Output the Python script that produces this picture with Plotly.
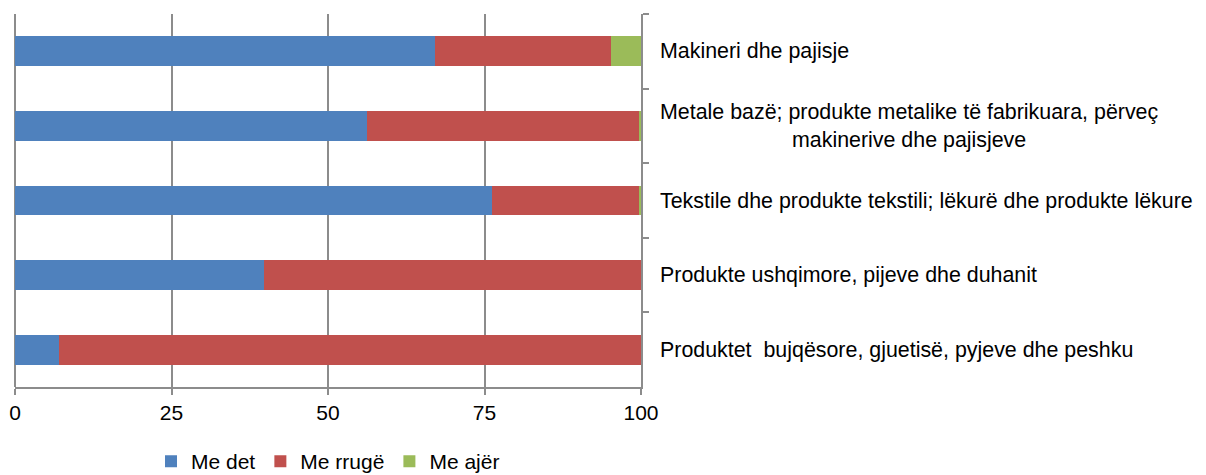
import plotly.graph_objects as go

categories = [
    "Makineri dhe pajisje",
    "Metale bazë; produkte metalike të fabrikuara, përveç<br>makinerive dhe pajisjeve",
    "Tekstile dhe produkte tekstili; lëkurë dhe produkte lëkure",
    "Produkte ushqimore, pijeve dhe duhanit",
    "Produktet  bujqësore, gjuetisë, pyjeve dhe peshku",
]
cat_ids = ["c1", "c2", "c3", "c4", "c5"]
me_det = [67.1, 56.3, 76.2, 39.7, 7.1]
me_rruge = [28.1, 43.3, 23.6, 60.3, 92.9]
me_ajer = [4.8, 0.4, 0.2, 0.0, 0.0]
series_names = ["Me det", "Me rrugë", "Me ajër"]
colors = ["#4F81BD", "#C0504D", "#9BBB59"]
x_ticks = [0, 25, 50, 75, 100]

FONT = "Liberation Sans, Arial, sans-serif"
GRAY = "#8C8C8C"

fig = go.Figure()
for name, vals, col in zip(series_names, [me_det, me_rruge, me_ajer], colors):
    fig.add_trace(go.Bar(
        y=cat_ids, x=vals, name=name, orientation="h",
        marker=dict(color=col, line=dict(width=0)),
    ))

for cid, label in zip(cat_ids, categories):
    fig.add_annotation(
        x=1, xref="paper", y=cid, yref="y", text=label,
        xanchor="left", yanchor="middle", xshift=17, align="center",
        showarrow=False, font=dict(family=FONT, size=21.4, color="#000000"),
    )

fig.update_layout(
    width=1206, height=475,
    margin=dict(l=15, r=565, t=14, b=88, autoexpand=False),
    barmode="stack", bargap=0.6,
    plot_bgcolor="white", paper_bgcolor="white",
    font=dict(family=FONT, size=21, color="#000000"),
    showlegend=True,
    legend=dict(
        orientation="h", x=0.5, xanchor="center", y=-0.2, yanchor="middle",
        font=dict(family=FONT, size=21), itemwidth=30,
        traceorder="normal",
    ),
)
fig.update_xaxes(
    range=[0, 100], tickvals=x_ticks, ticktext=[str(v) for v in x_ticks],
    showgrid=True, gridcolor=GRAY, gridwidth=2,
    zeroline=True, zerolinecolor=GRAY, zerolinewidth=2,
    showline=True, linecolor=GRAY, linewidth=2,
    ticks="outside", ticklen=6, tickcolor=GRAY, tickwidth=2,
    tickfont=dict(family=FONT, size=21, color="#000000"),
    automargin=False, fixedrange=True,
)
fig.update_yaxes(
    categoryorder="array", categoryarray=cat_ids, autorange="reversed",
    side="right", showticklabels=False,
    showline=True, linecolor=GRAY, linewidth=2,
    ticks="outside", ticklen=6, tickcolor=GRAY, tickwidth=2,
    tickson="boundaries", showgrid=False,
    automargin=False, fixedrange=True,
)

fig.write_html("out.html", config={"displayModeBar": False},
               post_script="document.body.style.margin='0px';")
